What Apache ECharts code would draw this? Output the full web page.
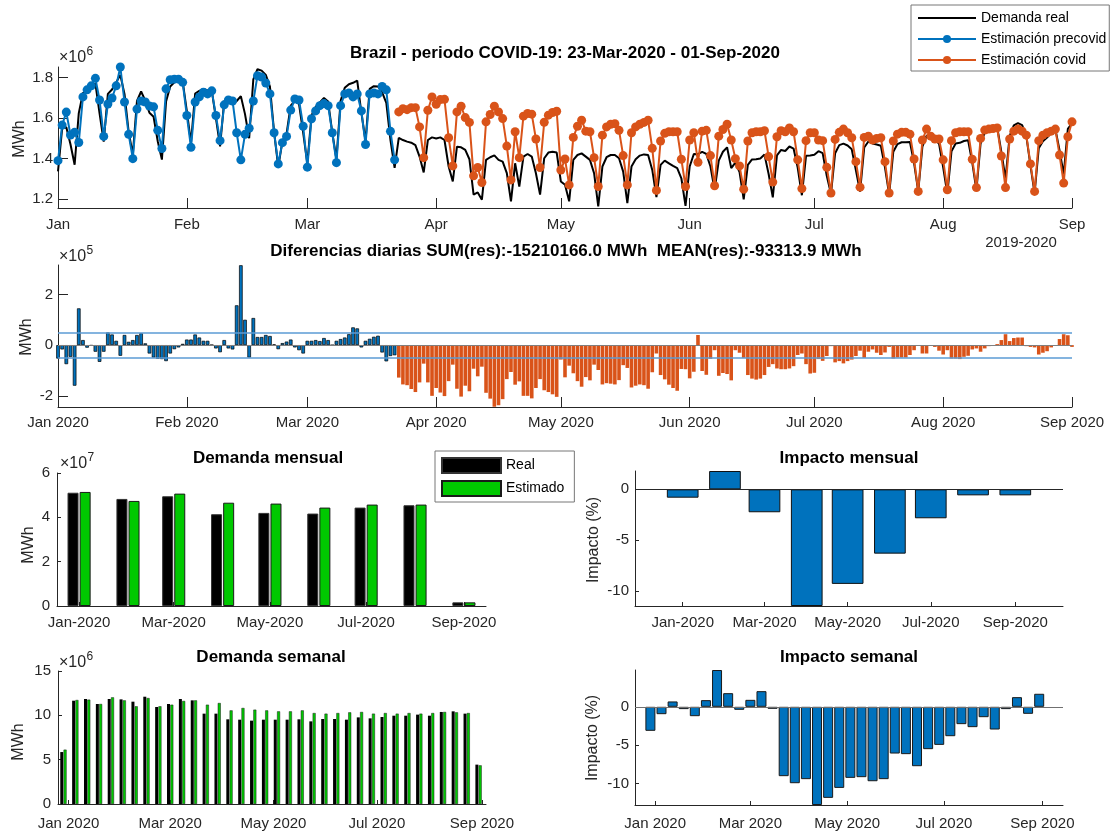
<!DOCTYPE html>
<html>
<head>
<meta charset="utf-8">
<title>Brazil - demanda COVID-19</title>
<script src="https://cdn.jsdelivr.net/npm/echarts@6.0.0/dist/echarts.min.js"></script>
<style>
  html, body { margin: 0; padding: 0; background: #fff; }
  #chart { width: 1112px; height: 834px; }
</style>
</head>
<body>
<div id="chart"></div>
<script>
// ---- daily data, 10^6 MWh, index 0 = 01-Jan-2020 ----
const dayZero = '2020-01-01';
const covidStartDate = '2020-03-23';

const demandaReal = [
  1.337,1.549,1.555,1.471,1.37,1.625,1.725,1.73,1.758,1.771,
  1.624,1.484,1.72,1.742,1.777,1.813,1.72,1.533,1.42,1.685,
  1.732,1.687,1.627,1.607,1.486,1.395,1.682,1.757,1.777,1.784,
  1.782,1.635,1.478,1.722,1.735,1.745,1.737,1.736,1.60,1.461,
  1.686,1.677,1.668,1.685,1.709,1.62,1.501,1.792,1.842,1.835,
  1.814,1.756,1.531,1.358,1.487,1.524,1.662,1.686,1.67,1.527,
  1.375,1.614,1.656,1.678,1.70,1.682,1.528,1.397,1.686,1.75,
  1.768,1.775,1.786,1.627,1.487,1.745,1.758,1.757,1.728,1.676,
  1.492,1.354,
  1.503,1.492,1.484,1.479,1.467,1.41,1.332,1.492,1.505,1.5,
  1.505,1.492,1.361,1.287,1.459,1.456,1.443,1.397,1.222,1.233,
  1.197,1.394,1.407,1.416,1.394,1.385,1.328,1.189,1.377,1.262,
  1.41,1.423,1.41,1.328,1.222,1.402,1.43,1.434,1.43,1.287,
  1.271,1.189,1.394,1.418,1.426,1.41,1.394,1.328,1.164,1.361,
  1.407,1.418,1.418,1.402,1.336,1.18,1.361,1.397,1.415,1.421,
  1.418,1.344,1.21,1.369,1.39,1.377,1.364,1.353,1.303,1.167,
  1.361,1.423,1.422,1.434,1.423,1.361,1.246,1.39,1.434,1.456,
  1.353,1.38,
  1.334,1.199,1.369,1.396,1.397,1.401,1.42,1.324,
  1.209,1.416,1.443,1.438,1.46,1.45,1.355,1.219,1.414,1.416,
  1.419,1.437,1.427,1.314,1.226,1.427,1.467,1.474,1.465,1.446,
  1.342,1.237,1.455,1.485,1.475,1.47,1.464,1.356,1.223,1.434,
  1.472,1.481,1.481,1.482,1.378,1.238,1.459,1.513,1.511,1.49,
  1.475,1.357,1.226,1.436,1.475,1.478,1.487,1.491,1.38,1.244,
  1.474,1.528,1.542,1.549,1.556,1.433,1.30,1.513,1.564,1.576,
  1.566,1.512,1.367,1.229,1.452,1.486,1.504,1.527,1.546,1.442,
  1.322,1.547,1.575
];

// 01-Jan .. 22-Mar
const estPrecovid = [
  1.39,1.566,1.63,1.517,1.53,1.48,1.705,1.74,1.76,1.797,
  1.69,1.51,1.67,1.70,1.76,1.853,1.68,1.52,1.40,1.645,
  1.685,1.68,1.66,1.656,1.54,1.45,1.745,1.79,1.793,1.793,
  1.777,1.613,1.456,1.68,1.705,1.728,1.72,1.735,1.613,1.489,
  1.666,1.69,1.685,1.528,1.394,1.52,1.55,1.685,1.81,1.803,
  1.774,1.72,1.528,1.374,1.479,1.51,1.64,1.695,1.69,1.56,
  1.358,1.597,1.636,1.662,1.672,1.662,1.528,1.38,1.662,1.72,
  1.725,1.705,1.72,1.636,1.47,1.72,1.725,1.72,1.757,1.74,
  1.535,1.394
];

// 23-Mar .. 01-Sep
const estCovid = [
  1.631,1.647,1.642,1.652,1.652,1.557,1.405,1.639,1.705,1.669,
  1.692,1.693,1.503,1.364,1.631,1.659,1.603,1.579,1.315,1.356,
  1.282,1.582,1.618,1.659,1.631,1.598,1.462,1.295,1.533,1.405,
  1.61,1.623,1.62,1.497,1.356,1.58,1.615,1.628,1.634,1.344,
  1.398,1.27,1.505,1.56,1.59,1.536,1.533,1.405,1.262,1.516,
  1.557,1.57,1.573,1.54,1.415,1.27,1.528,1.557,1.57,1.579,
  1.59,1.451,1.243,1.487,1.525,1.533,1.533,1.533,1.397,1.262,
  1.492,1.528,1.382,1.536,1.54,1.415,1.266,1.511,1.544,1.57,
  1.492,1.40,1.364,1.249,1.487,1.528,1.533,1.533,1.538,1.41,
  1.284,1.508,1.538,1.533,1.552,1.533,1.394,1.252,1.489,1.528,
  1.528,1.492,1.489,1.357,1.23,1.495,1.53,1.546,1.528,1.503,
  1.385,1.259,1.505,1.511,1.492,1.5,1.503,1.385,1.23,1.487,
  1.521,1.53,1.53,1.521,1.398,1.238,1.492,1.546,1.511,1.497,
  1.497,1.394,1.246,1.489,1.528,1.533,1.533,1.533,1.397,1.257,
  1.5,1.541,1.546,1.549,1.552,1.413,1.257,1.497,1.536,1.546,
  1.536,1.516,1.374,1.238,1.489,1.516,1.528,1.536,1.546,1.418,
  1.279,1.508,1.582
];

// daily residuals, 10^5 MWh
const difDiaria = [
  -0.53,-0.17,-0.75,-0.46,-1.6,1.45,0.2,-0.1,-0.02,-0.26,
  -0.66,-0.26,0.5,0.42,0.17,-0.42,0.4,0.13,0.2,0.4,
  0.47,0.07,-0.33,-0.49,-0.54,-0.55,-0.63,-0.33,-0.16,-0.09,
  0.05,0.22,0.22,0.42,0.3,0.17,0.17,0.01,-0.13,-0.28,
  0.2,-0.13,-0.17,1.57,3.15,1.0,-0.49,1.07,0.32,0.32,
  0.4,0.36,0.03,-0.16,0.08,0.14,0.22,-0.09,-0.2,-0.33,
  0.17,0.17,0.2,0.16,0.28,0.2,0,0.17,0.24,0.3,
  0.43,0.7,0.66,-0.09,0.17,0.25,0.33,0.37,-0.29,-0.64,
  -0.43,-0.4,
  -1.28,-1.55,-1.58,-1.73,-1.85,-1.47,-0.73,-1.47,-2.0,-1.69,
  -1.87,-2.01,-1.42,-0.77,-1.72,-2.03,-1.6,-1.82,-0.93,-1.23,
  -0.85,-1.88,-2.11,-2.43,-2.37,-2.13,-1.34,-1.06,-1.56,-1.43,
  -2.0,-2.0,-2.1,-1.69,-1.34,-1.78,-1.85,-1.94,-2.04,-0.57,
  -1.27,-0.81,-1.11,-1.42,-1.64,-1.26,-1.39,-0.77,-0.98,-1.55,
  -1.5,-1.52,-1.55,-1.38,-0.79,-0.9,-1.67,-1.6,-1.55,-1.58,
  -1.72,-1.07,-0.33,-1.18,-1.35,-1.56,-1.69,-1.8,-0.94,-0.95,
  -1.31,-1.05,0.4,-1.02,-1.17,-0.54,-0.2,-1.21,-1.1,-1.14,
  -1.39,-0.2,
  -0.3,-0.5,-1.18,-1.32,-1.36,-1.32,-1.18,-0.86,
  -0.75,-0.92,-0.95,-0.95,-0.92,-0.83,-0.39,-0.33,-0.75,-1.12,
  -1.09,-0.55,-0.62,-0.43,-0.04,-0.68,-0.63,-0.72,-0.63,-0.57,
  -0.43,-0.22,-0.5,-0.26,-0.17,-0.3,-0.39,-0.29,-0.07,-0.53,
  -0.49,-0.49,-0.49,-0.39,-0.2,0,-0.33,-0.33,0,-0.07,
  -0.22,-0.37,-0.2,-0.53,-0.53,-0.55,-0.46,-0.42,-0.17,-0.13,
  -0.26,-0.13,-0.04,0,0.04,0.2,0.43,0.16,0.28,0.3,
  0.3,-0.04,-0.07,-0.09,-0.37,-0.3,-0.24,-0.09,0,0.24,
  0.43,0.39,-0.07
];
const bandLines = [0.47, -0.49];

// ---- monthly ----
const monthStarts = ['2020-01-01','2020-02-01','2020-03-01','2020-04-01','2020-05-01',
                     '2020-06-01','2020-07-01','2020-08-01','2020-09-01'];
const monthShort = ['Jan','Feb','Mar','Apr','May','Jun','Jul','Aug','Sep'];
const monthlyReal = [5.11, 4.83, 4.95, 4.14, 4.2, 4.17, 4.44, 4.545, 0.165];   // 10^7 MWh
const monthlyEst = [5.145, 4.74, 5.07, 4.66, 4.62, 4.44, 4.575, 4.575, 0.165];
const monthlyImpact = [-0.82, 1.8, -2.25, -11.45, -9.28, -6.31, -2.84, -0.59, -0.59]; // %

// ---- weekly ----
const weekStarts = ['2019-12-29','2020-01-05','2020-01-12','2020-01-19','2020-01-26',
  '2020-02-02','2020-02-09','2020-02-16','2020-02-23','2020-03-01','2020-03-08',
  '2020-03-15','2020-03-22','2020-03-29','2020-04-05','2020-04-12','2020-04-19',
  '2020-04-26','2020-05-03','2020-05-10','2020-05-17','2020-05-24','2020-05-31',
  '2020-06-07','2020-06-14','2020-06-21','2020-06-28','2020-07-05','2020-07-12',
  '2020-07-19','2020-07-26','2020-08-02','2020-08-09','2020-08-16','2020-08-23','2020-08-30'];
const weeklyReal = [5.86,11.65,11.84,11.28,11.84,11.8,11.54,12.1,10.94,11.28,11.84,11.69,
  10.19,10.19,9.55,9.51,9.4,9.51,9.51,9.51,9.55,9.32,9.59,9.59,9.51,9.77,9.66,9.81,
  9.96,9.96,10.08,9.96,10.38,10.45,10.19,4.44];   // 10^6 MWh
const weeklyEst = [6.13,11.73,11.77,11.28,12.03,11.69,11.02,11.95,11.02,11.2,11.62,11.69,
  11.2,11.39,10.56,10.83,10.64,10.56,10.45,10.45,10.56,10.26,10.19,10.26,10.34,10.38,
  10.19,10.26,10.19,10.26,10.19,10.26,10.38,10.34,10.26,4.36];
const weeklyImpact = [-3.13,-0.96,0.7,-0.3,-1.22,0.87,4.8,1.78,-0.39,0.91,2.04,-0.26,
  -9.04,-9.96,-9.43,-12.8,-11.87,-10.57,-9.26,-9.17,-9.7,-9.43,-6.09,-6.17,-7.74,-5.52,
  -4.96,-3.83,-2.26,-2.65,-1.35,-2.96,-0.3,1.26,-0.91,1.7];

// ---- helpers ----
const FONT = '"Liberation Sans", Arial, Helvetica, sans-serif';
const AX = '#262626';
const BLUE = '#0072BD', ORANGE = '#D95319', GREEN = '#00C800';
const t0 = Date.parse(dayZero);
const dayOf = s => Math.round((Date.parse(s) - t0) / 86400000);

const covidStart = dayOf(covidStartDate);
const monthDays = monthStarts.map(dayOf);
const bottomTicks = monthDays.filter((d, i) => i % 2 === 0);
const weekDays = weekStarts.map(dayOf);

const monthLabel = suffix => v => {
    const i = monthDays.indexOf(v);
    return i < 0 ? '' : monthShort[i] + suffix;
};

function xAx(grid, min, max, ticks, fmt, tickLen, margin) {
    return {
        type: 'value', gridIndex: grid, min: min, max: max,
        axisLine: { show: true, onZero: false, lineStyle: { color: AX, width: 1 } },
        axisTick: { show: true, inside: true, length: tickLen, customValues: ticks, lineStyle: { color: AX } },
        axisLabel: { customValues: ticks, formatter: fmt, margin: margin, fontSize: 15, color: AX, fontFamily: FONT },
        splitLine: { show: false }
    };
}

function yAx(grid, min, max, ticks, fmt, tickLen, margin) {
    return {
        type: 'value', gridIndex: grid, min: min, max: max,
        axisLine: { show: true, onZero: false, lineStyle: { color: AX, width: 1 } },
        axisTick: { show: true, inside: true, length: tickLen, customValues: ticks, lineStyle: { color: AX } },
        axisLabel: { customValues: ticks, formatter: fmt, margin: margin, fontSize: 15, color: AX, fontFamily: FONT },
        splitLine: { show: false }
    };
}

function txt(x, y, text, opts) {
    opts = opts || {};
    return {
        type: 'text', x: x, y: y, rotation: opts.rot || 0, z: 100,
        style: {
            text: text, fill: opts.color || AX,
            font: (opts.bold ? 'bold ' : '') + (opts.size || 15) + 'px ' + FONT,
            align: opts.align || 'center', verticalAlign: 'middle',
            textAlign: opts.align || 'center', textVerticalAlign: 'middle'
        }
    };
}

const zeroLine = (color) => ({
    silent: true, symbol: 'none', label: { show: false }, animation: false,
    data: [{ yAxis: 0, lineStyle: { color: color, width: 1, type: 'solid' } }]
});

// ---- chart ----
const chart = echarts.init(document.getElementById('chart'));

const option = {
    animation: false,
    backgroundColor: '#fff',
    textStyle: { fontFamily: FONT },
    grid: [
        { left: 58, top: 67, width: 1014, height: 141, outerBoundsMode: 'none' },
        { left: 58, top: 265, width: 1014, height: 142, outerBoundsMode: 'none' },
        { left: 57, top: 473, width: 429, height: 133, outerBoundsMode: 'none' },
        { left: 635, top: 471, width: 428, height: 135, outerBoundsMode: 'none' },
        { left: 58, top: 671, width: 428, height: 133, outerBoundsMode: 'none' },
        { left: 635, top: 670, width: 428, height: 135, outerBoundsMode: 'none' }
    ],
    xAxis: [
        xAx(0, 0, 244, monthDays, monthLabel(''), 10, 9),
        xAx(1, 0, 244, monthDays, monthLabel(' 2020'), 10, 8),
        xAx(2, -14, 258, bottomTicks, monthLabel('-2020'), 4, 9),
        xAx(3, -35, 279, bottomTicks, monthLabel('-2020'), 4, 9),
        xAx(4, -6.2, 246.4, bottomTicks, monthLabel(' 2020'), 4, 12),
        xAx(5, -12.7, 257, bottomTicks, monthLabel(' 2020'), 4, 11)
    ],
    yAxis: [
        yAx(0, 1.156, 1.853, [1.2, 1.4, 1.6, 1.8], v => v.toFixed(1), 10, 5),
        yAx(1, -2.44, 3.16, [-2, 0, 2], v => String(v), 10, 5),
        yAx(2, 0, 6, [0, 2, 4, 6], v => String(v), 4, 7),
        yAx(3, -11.45, 1.8, [-10, -5, 0], v => String(v), 4, 6),
        yAx(4, 0, 15, [0, 5, 10, 15], v => String(v), 4, 7),
        yAx(5, -12.8, 4.8, [-10, -5, 0], v => String(v), 4, 6)
    ],
    legend: [
        {
            selectedMode: false, orient: 'vertical', left: 911, top: 5,
            padding: [6, 3, 4, 6], itemWidth: 58, itemHeight: 10, itemGap: 7,
            borderColor: '#777', borderWidth: 1, borderRadius: 0, backgroundColor: '#fff',
            textStyle: { fontSize: 14, color: '#000', fontFamily: FONT },
            data: [
                { name: 'Demanda real', itemStyle: { opacity: 0 } },
                'Estimación precovid',
                'Estimación covid'
            ]
        },
        {
            selectedMode: false, orient: 'vertical', left: 435, top: 451,
            padding: [6, 10, 5, 6], itemWidth: 59, itemHeight: 15, itemGap: 6,
            icon: 'rect', borderColor: '#777', borderWidth: 1, borderRadius: 0, backgroundColor: '#fff',
            textStyle: { fontSize: 14, color: '#000', fontFamily: FONT },
            data: ['Real', 'Estimado']
        }
    ],
    series: [
        // daily demand
        {
            name: 'Demanda real', type: 'line', xAxisIndex: 0, yAxisIndex: 0,
            data: demandaReal.map((v, i) => [i, v]),
            symbol: 'none', color: '#000', lineStyle: { color: '#000', width: 2 }, z: 2
        },
        {
            name: 'Estimación precovid', type: 'line', xAxisIndex: 0, yAxisIndex: 0,
            data: estPrecovid.map((v, i) => [i, v]),
            symbol: 'circle', symbolSize: 9, color: BLUE,
            itemStyle: { color: BLUE }, lineStyle: { color: BLUE, width: 2 }, z: 3
        },
        {
            name: 'Estimación covid', type: 'line', xAxisIndex: 0, yAxisIndex: 0,
            data: estCovid.map((v, i) => [covidStart + i, v]),
            symbol: 'circle', symbolSize: 9, color: ORANGE,
            itemStyle: { color: ORANGE }, lineStyle: { color: ORANGE, width: 2 }, z: 3
        },
        // daily residuals
        {
            name: 'res precovid', type: 'bar', xAxisIndex: 1, yAxisIndex: 1,
            data: difDiaria.slice(0, covidStart).map((v, i) => [i, v]),
            barWidth: 3.6, barGap: '-100%',
            itemStyle: { color: BLUE, borderColor: '#000', borderWidth: 0.7 },
            markLine: {
                silent: true, symbol: 'none', label: { show: false }, animation: false,
                data: [
                    { yAxis: 0, lineStyle: { color: '#7f7f7f', width: 1, type: 'solid' } },
                    { yAxis: bandLines[0], lineStyle: { color: '#5b9bd5', width: 1.5, type: 'solid' } },
                    { yAxis: bandLines[1], lineStyle: { color: '#5b9bd5', width: 1.5, type: 'solid' } }
                ]
            }
        },
        {
            name: 'res covid', type: 'bar', xAxisIndex: 1, yAxisIndex: 1,
            data: difDiaria.slice(covidStart).map((v, i) => [covidStart + i, v]),
            barWidth: 3.6, barGap: '-100%',
            itemStyle: { color: ORANGE, borderWidth: 0 }
        },
        // monthly demand
        {
            name: 'Real', type: 'bar', xAxisIndex: 2, yAxisIndex: 2,
            data: monthlyReal.map((v, i) => [monthDays[i], v]),
            barWidth: 11, barGap: '10%',
            itemStyle: { color: '#000', borderColor: '#333', borderWidth: 1 }
        },
        {
            name: 'Estimado', type: 'bar', xAxisIndex: 2, yAxisIndex: 2,
            data: monthlyEst.map((v, i) => [monthDays[i], v]),
            barWidth: 11, barGap: '10%',
            itemStyle: { color: GREEN, borderColor: '#1a1a1a', borderWidth: 1 }
        },
        // monthly impact
        {
            name: 'Impacto mensual', type: 'bar', xAxisIndex: 3, yAxisIndex: 3,
            data: monthlyImpact.map((v, i) => [monthDays[i], v]),
            barWidth: 31.7,
            itemStyle: { color: BLUE, borderColor: '#111', borderWidth: 1 },
            markLine: zeroLine('#262626')
        },
        // weekly demand
        {
            name: 'Real semanal', type: 'bar', xAxisIndex: 4, yAxisIndex: 4,
            data: weeklyReal.map((v, i) => [weekDays[i], v]),
            barWidth: 3, barGap: '10%',
            itemStyle: { color: '#000' }
        },
        {
            name: 'Estimado semanal', type: 'bar', xAxisIndex: 4, yAxisIndex: 4,
            data: weeklyEst.map((v, i) => [weekDays[i], v]),
            barWidth: 3, barGap: '10%',
            itemStyle: { color: GREEN, borderColor: '#1a1a1a', borderWidth: 0.5 }
        },
        // weekly impact
        {
            name: 'Impacto semanal', type: 'bar', xAxisIndex: 5, yAxisIndex: 5,
            data: weeklyImpact.map((v, i) => [weekDays[i], v]),
            barWidth: 10,
            itemStyle: { color: BLUE, borderColor: '#1a1a1a', borderWidth: 1 },
            markLine: zeroLine('#707070')
        }
    ],
    graphic: [
        txt(565, 53, 'Brazil - periodo COVID-19: 23-Mar-2020 - 01-Sep-2020', { bold: true, size: 17, color: '#000' }),
        txt(566, 251.5, 'Diferencias diarias SUM(res):-15210166.0 MWh  MEAN(res):-93313.9 MWh', { bold: true, size: 17, color: '#000' }),
        txt(268, 458, 'Demanda mensual', { bold: true, size: 17, color: '#000' }),
        txt(849, 458, 'Impacto mensual', { bold: true, size: 17, color: '#000' }),
        txt(271, 657, 'Demanda semanal', { bold: true, size: 17, color: '#000' }),
        txt(849, 657, 'Impacto semanal', { bold: true, size: 17, color: '#000' }),

        txt(20, 139, 'MWh', { rot: Math.PI / 2, size: 16 }),
        txt(27, 337, 'MWh', { rot: Math.PI / 2, size: 16 }),
        txt(29, 545, 'MWh', { rot: Math.PI / 2, size: 16 }),
        txt(19, 742, 'MWh', { rot: Math.PI / 2, size: 16 }),
        txt(594, 540, 'Impacto (%)', { rot: Math.PI / 2, size: 16 }),
        txt(593, 738, 'Impacto (%)', { rot: Math.PI / 2, size: 16 }),

        txt(59, 58, '\u00d710', { align: 'left', size: 16 }),
        txt(86.5, 52, '6', { align: 'left', size: 12 }),
        txt(59, 256.5, '\u00d710', { align: 'left', size: 16 }),
        txt(86.5, 250.5, '5', { align: 'left', size: 12 }),
        txt(60, 464, '\u00d710', { align: 'left', size: 16 }),
        txt(87.5, 457.5, '7', { align: 'left', size: 12 }),
        txt(59, 663, '\u00d710', { align: 'left', size: 16 }),
        txt(86.5, 656.5, '6', { align: 'left', size: 12 }),

        txt(1021, 243, '2019-2020')
    ]
};

chart.setOption(option);
window.addEventListener('resize', () => chart.resize());
</script>
</body>
</html>
